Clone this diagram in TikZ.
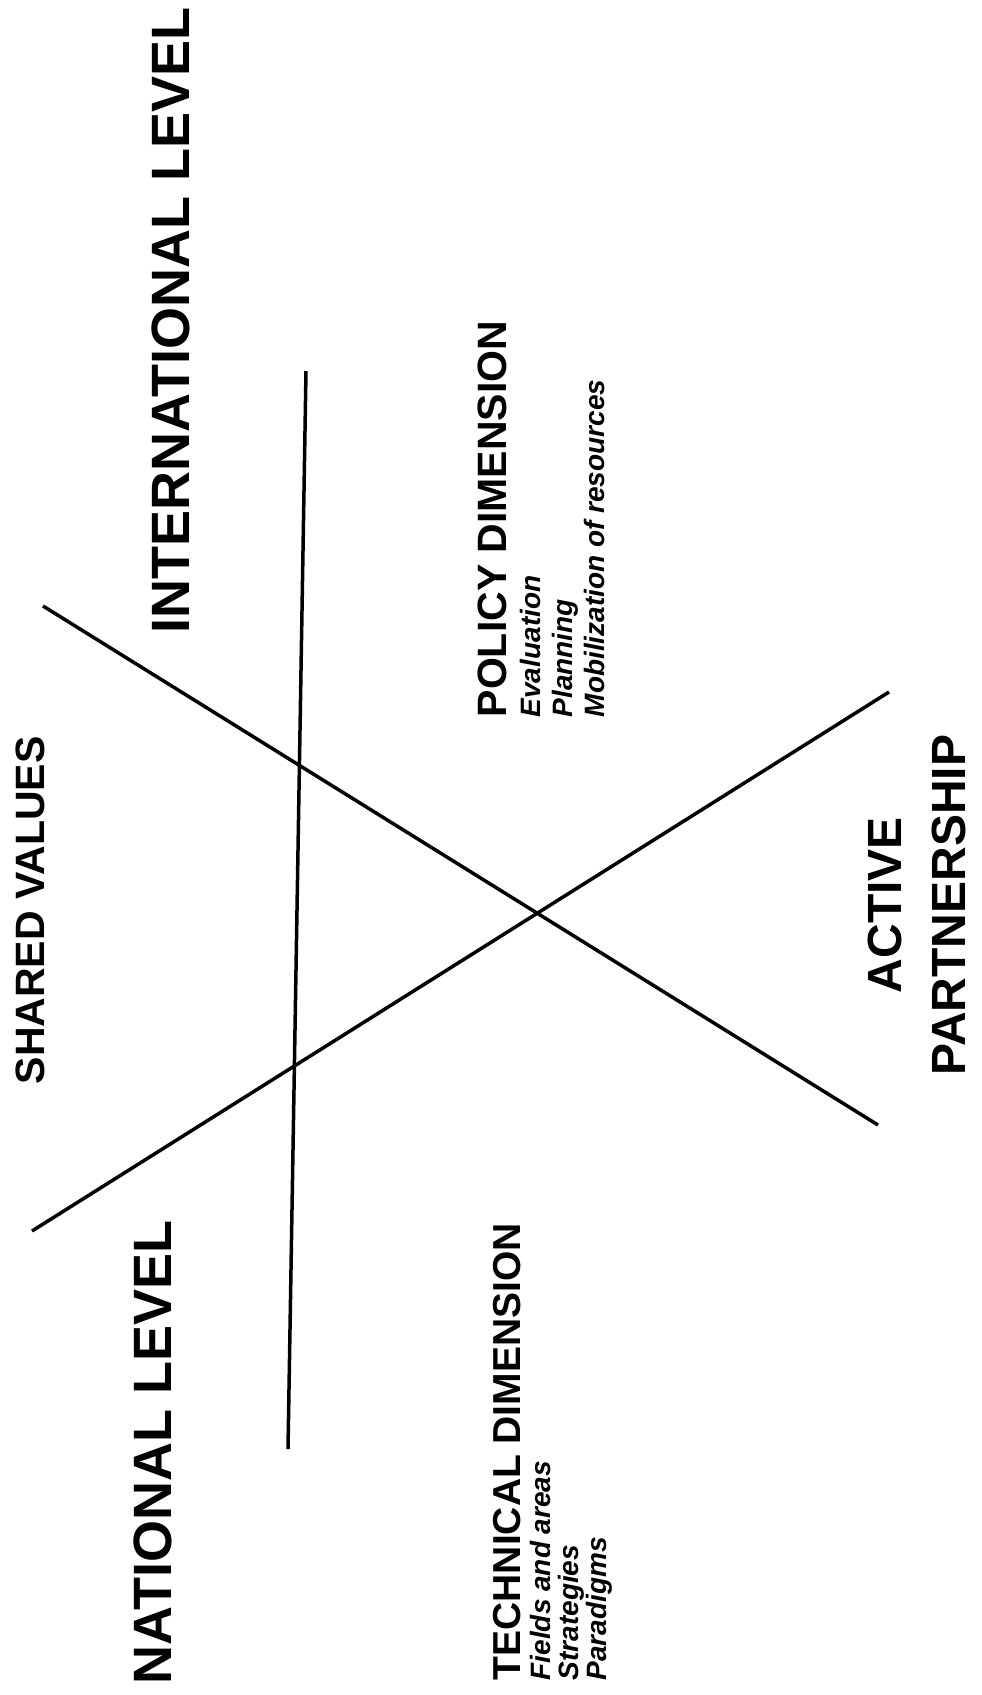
\documentclass[tikz,border=0pt]{standalone}
\usepackage{fontspec}
\setmainfont{Liberation Sans}
\usetikzlibrary{positioning}

\newcommand{\itemfont}{\fontsize{28}{32}\selectfont\bfseries\itshape}

\begin{document}
\begin{tikzpicture}[x=1pt, y=-1pt, line width=3.5pt,
  level/.style={rotate=90, anchor=north west, inner sep=0pt,
    font=\fontsize{54}{60}\selectfont\bfseries},
  dimension/.style={rotate=90, anchor=north west, inner sep=0pt, align=left,
    font=\fontsize{28}{32}\selectfont\bfseries}]

  % page
  \useasboundingbox (0,0) rectangle (982,1695);

  % end points of the three lines
  \coordinate (vtop) at (306,371);
  \coordinate (vbot) at (288,1449);
  \coordinate (atop) at (43,606);
  \coordinate (abot) at (878,1125);
  \coordinate (bbot) at (32,1231);
  \coordinate (btop) at (889,692);

  \draw (vtop) -- (vbot);
  \draw (atop) -- (abot);
  \draw (bbot) -- (btop);

  % levels
  \node[level] (intl) at (150,635) {INTERNATIONAL LEVEL};
  \node[level] (natl) at (132,1686) {NATIONAL LEVEL};
  \node[level, font=\fontsize{41}{45}\selectfont\bfseries] (shared) at (14,1086) {SHARED VALUES};

  % dimensions
  \node[dimension] (policy) at (476,719) {{\fontsize{41}{41}\selectfont POLICY DIMENSION}\\[2pt]
    {\itemfont Evaluation}\\
    {\itemfont Planning}\\
    {\itemfont Mobilization of resources}};
  \node[dimension] (technical) at (492,1682) {{\fontsize{39}{39}\selectfont TECHNICAL DIMENSION}\\[-2pt]
    {\itemfont Fields and areas}\\[-4pt]
    {\itemfont Strategies}\\[-4pt]
    {\itemfont Paradigms}};

  \node[rotate=90, align=center, inner sep=0pt, font=\fontsize{48}{64}\selectfont\bfseries]
    (partner) at (917,905) {ACTIVE\\PARTNERSHIP};
\end{tikzpicture}
\end{document}
